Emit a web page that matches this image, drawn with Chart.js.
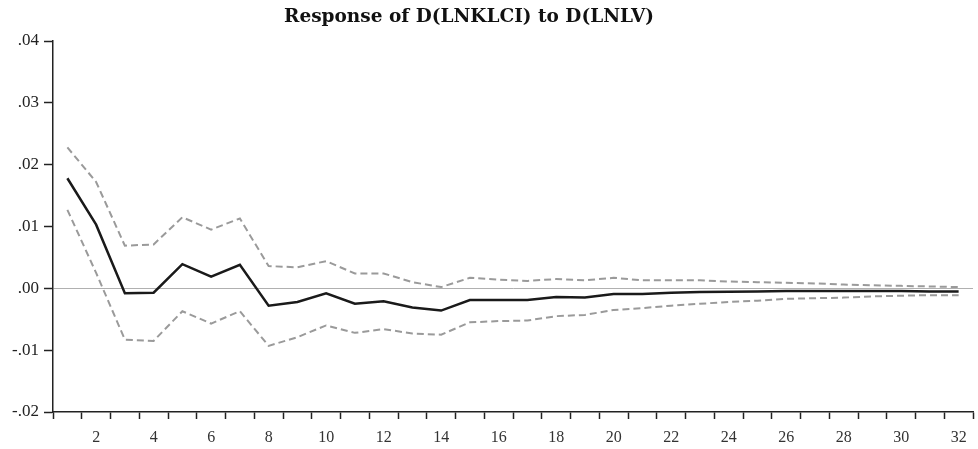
<!DOCTYPE html>
<html>
<head>
<meta charset="utf-8">
<script src="https://cdn.jsdelivr.net/npm/chart.js@4"></script>
<style>
  html, body { margin: 0; padding: 0; background: #fff; }
  #wrap { width: 978px; height: 449px; }
</style>
</head>
<body>
<div id="wrap"><canvas id="irfChart" width="978" height="449"></canvas></div>
<script>
// Impulse response data, periods 1..32
const periods = Array.from({ length: 32 }, (_, i) => String(i + 1));
const response = [0.0178, 0.0103, -0.0008, -0.0007, 0.0039, 0.0019, 0.0038, -0.0028,
    -0.0022, -0.0008, -0.0025, -0.0021, -0.0031, -0.0036, -0.0019, -0.0019,
    -0.0019, -0.0014, -0.0015, -0.0009, -0.0009, -0.0007, -0.0006, -0.00055,
    -0.0005, -0.00045, -0.00045, -0.00045, -0.00045, -0.00045, -0.0005, -0.0005];
const upperBand = [0.0228, 0.0172, 0.0069, 0.0071, 0.0115, 0.0095, 0.0113, 0.0036,
    0.0034, 0.0044, 0.0024, 0.0024, 0.0010, 0.0002, 0.0017, 0.0014,
    0.0012, 0.0015, 0.0013, 0.0017, 0.0013, 0.0013, 0.0013, 0.0011,
    0.0010, 0.0009, 0.0008, 0.0006, 0.0005, 0.0004, 0.0003, 0.0002];
const lowerBand = [0.0127, 0.0025, -0.0083, -0.0085, -0.0037, -0.0057, -0.0037, -0.0093,
    -0.0079, -0.0060, -0.0072, -0.0066, -0.0073, -0.0075, -0.0055, -0.0053,
    -0.0052, -0.0045, -0.0043, -0.0035, -0.0032, -0.0028, -0.0025, -0.0022,
    -0.0020, -0.0017, -0.0016, -0.0015, -0.0013, -0.0012, -0.0011, -0.0011];
const yTicks = [-0.02, -0.01, 0, 0.01, 0.02, 0.03, 0.04];
const chartTitle = 'Response of D(LNKLCI) to D(LNLV)';

const serif = '"Liberation Serif", "Times New Roman", serif';
const axisColor = '#222';

// title drawn by hand so it sits where the original has it
const titlePlugin = {
    id: 'irfTitle',
    afterDraw(chart) {
        const ctx = chart.ctx;
        ctx.save();
        ctx.font = 'bold 18.5px "DejaVu Serif", serif';
        ctx.fillStyle = '#111';
        ctx.textAlign = 'center';
        ctx.textBaseline = 'alphabetic';
        ctx.fillText(chartTitle, 469, 22);
        ctx.restore();
    }
};

function fmtTick(v) {
    if (Math.abs(v) < 1e-9) return '.00';
    const s = v.toFixed(2);
    return s.replace('0.', '.');
}

const bandStyle = {
    borderColor: '#9a9a9a',
    borderWidth: 2,
    borderDash: [7, 4],
    pointRadius: 0,
    tension: 0,
    fill: false
};

new Chart(document.getElementById('irfChart'), {
    type: 'line',
    data: {
        labels: periods,
        datasets: [
            Object.assign({ label: 'upper', data: upperBand }, bandStyle),
            Object.assign({ label: 'lower', data: lowerBand }, bandStyle),
            {
                label: 'response',
                data: response,
                borderColor: '#1a1a1a',
                borderWidth: 2.5,
                pointRadius: 0,
                tension: 0,
                fill: false
            }
        ]
    },
    options: {
        responsive: false,
        animation: false,
        layout: { padding: { top: 41, right: 5, left: 0, bottom: 0 } },
        plugins: {
            legend: { display: false },
            tooltip: { enabled: false },
            title: { display: false }
        },
        scales: {
            x: {
                type: 'category',
                offset: true,
                grid: {
                    offset: true,
                    drawOnChartArea: false,
                    drawTicks: true,
                    tickLength: 7,
                    tickColor: axisColor,
                    tickWidth: 1.5
                },
                border: { display: true, color: axisColor, width: 1.5 },
                ticks: {
                    autoSkip: false,
                    maxRotation: 0,
                    padding: 9,
                    color: '#333',
                    font: { family: serif, size: 16 },
                    callback: function(value, index) {
                        return index % 2 === 1 ? periods[index] : '';
                    }
                },
                afterFit: function(scale) { scale.height = 37; }
            },
            y: {
                min: -0.02,
                max: 0.04,
                afterBuildTicks: function(scale) {
                    scale.ticks = yTicks.map(v => ({ value: v }));
                },
                grid: {
                    drawTicks: true,
                    tickLength: 9,
                    tickColor: axisColor,
                    tickWidth: 1.5,
                    lineWidth: 1,
                    color: function(ctx) {
                        return ctx.tick && Math.abs(ctx.tick.value) < 1e-9 ? '#b0b0b0' : 'rgba(0,0,0,0)';
                    }
                },
                border: { display: true, color: axisColor, width: 1.5 },
                ticks: {
                    padding: 5,
                    color: '#222',
                    font: { family: serif, size: 17 },
                    callback: function(value) { return fmtTick(value); }
                },
                afterFit: function(scale) { scale.width = 53; }
            }
        }
    },
    plugins: [titlePlugin]
});
</script>
</body>
</html>
